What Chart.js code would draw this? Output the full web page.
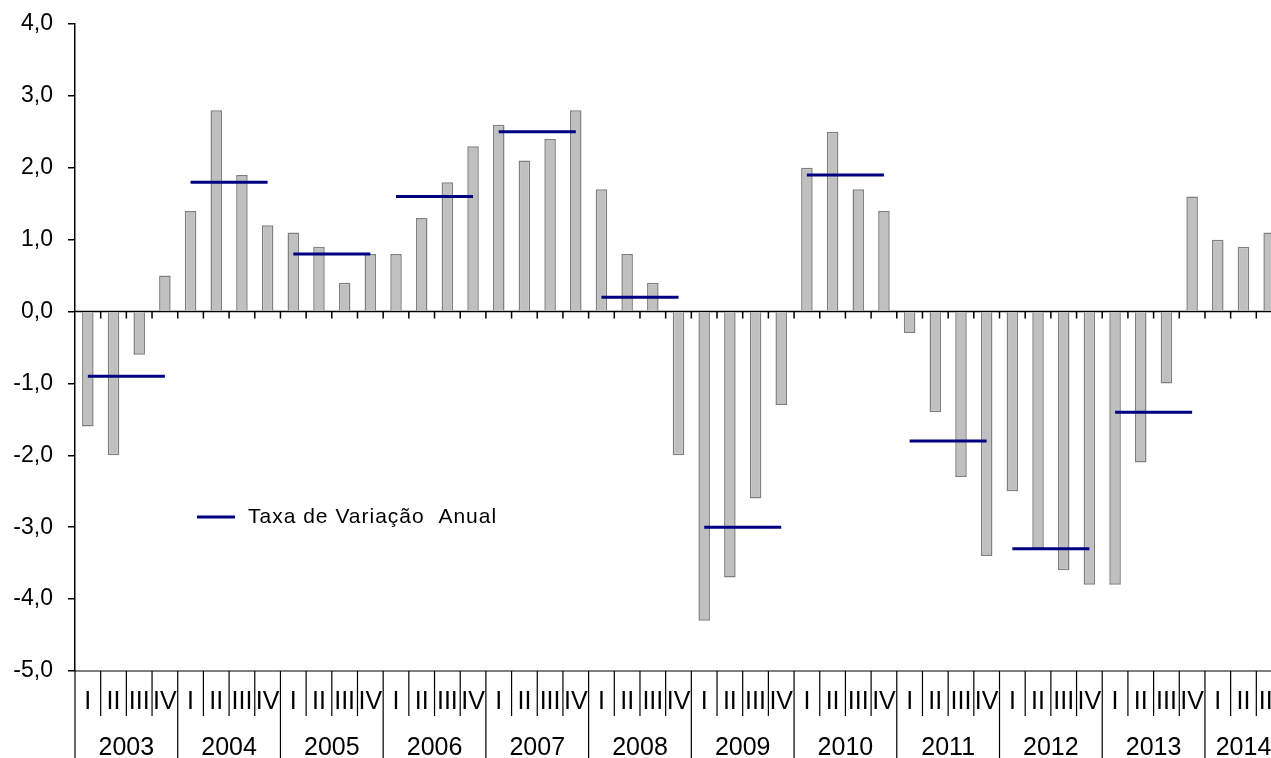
<!DOCTYPE html>
<html>
<head>
<meta charset="utf-8">
<script src="https://cdn.jsdelivr.net/npm/chart.js@4.4.1/dist/chart.umd.min.js"></script>
<style>
html, body { margin: 0; padding: 0; background: #fff; overflow: hidden; }
#wrap { width: 1282px; height: 758px; position: relative; }
</style>
</head>
<body>
<div id="wrap"><canvas id="chart"></canvas></div>
<script>
const years = ["2003", "2004", "2005", "2006", "2007", "2008", "2009", "2010", "2011", "2012", "2013", "2014"];
const quarters = ["I", "II", "III", "IV"];
// quarterly rate, 2003 I .. 2014 III
const quarterly = [
    -1.6, -2.0, -0.6, 0.5,
    1.4, 2.8, 1.9, 1.2,
    1.1, 0.9, 0.4, 0.8,
    0.8, 1.3, 1.8, 2.3,
    2.6, 2.1, 2.4, 2.8,
    1.7, 0.8, 0.4, -2.0,
    -4.3, -3.7, -2.6, -1.3,
    2.0, 2.5, 1.7, 1.4,
    -0.3, -1.4, -2.3, -3.4,
    -2.5, -3.3, -3.6, -3.8,
    -3.8, -2.1, -1.0, 1.6,
    1.0, 0.9, 1.1
];
// annual rate, 2003 .. 2013
const annual = [-0.9, 1.8, 0.8, 1.6, 2.5, 0.2, -3.0, 1.9, -1.8, -3.3, -1.4];
const legendText = "Taxa de Variação  Anual";

const font = "'Liberation Sans', Arial, sans-serif";
const navy = "#000080";

const labels = quarterly.map((v, i) => quarters[i % 4]);
const yearOf = i => Math.floor(i / 4);
const annualSeries = quarterly.map((v, i) => annual[yearOf(i)] !== undefined ? annual[yearOf(i)] : null);

const decor = {
    id: "decor",
    beforeDatasetsDraw(chart) {
        const { ctx, chartArea } = chart;
        const x = chart.scales.x, y = chart.scales.y;
        const w = x.getPixelForValue(1) - x.getPixelForValue(0);
        const y0 = y.getPixelForValue(0);
        ctx.save();
        ctx.strokeStyle = "#000";
        ctx.lineWidth = 1.5;
        ctx.beginPath();
        ctx.moveTo(chartArea.left, y0);
        ctx.lineTo(chartArea.right, y0);
        for (let i = 1; i <= labels.length; i++) {
            const bx = x.getPixelForValue(i - 1) + w / 2;
            ctx.moveTo(bx, y0);
            ctx.lineTo(bx, y0 + 7);
        }
        ctx.stroke();
        ctx.restore();
    },
    afterDraw(chart) {
        const { ctx, chartArea } = chart;
        const x = chart.scales.x;
        const w = x.getPixelForValue(1) - x.getPixelForValue(0);
        const bottom = chartArea.bottom;
        ctx.save();
        // bottom axis and separators
        ctx.strokeStyle = "#000";
        ctx.lineWidth = 1.2;
        ctx.beginPath();
        ctx.moveTo(chartArea.left, bottom);
        ctx.lineTo(chartArea.right, bottom);
        for (let i = 0; i <= labels.length; i++) {
            const bx = x.getPixelForValue(0) - w / 2 + i * w;
            ctx.moveTo(bx, bottom);
            ctx.lineTo(bx, i % 4 === 0 ? chart.height : bottom + 45);
        }
        ctx.stroke();

        ctx.fillStyle = "#000";
        ctx.textAlign = "center";
        ctx.textBaseline = "middle";
        ctx.font = "25px " + font;
        labels.forEach((q, i) => {
            ctx.fillText(q, x.getPixelForValue(i), bottom + 31);
        });
        years.forEach((yr, k) => {
            const first = k * 4;
            const last = Math.min(k * 4 + 3, labels.length - 1);
            const cx = (x.getPixelForValue(first) + x.getPixelForValue(last)) / 2;
            ctx.fillText(yr, cx, bottom + 77);
        });

        // legend
        const ly = 517;
        ctx.strokeStyle = navy;
        ctx.lineWidth = 3;
        ctx.beginPath();
        ctx.moveTo(chartArea.left + 122, ly);
        ctx.lineTo(chartArea.left + 160, ly);
        ctx.stroke();
        ctx.textAlign = "left";
        ctx.font = "21px " + font;
        ctx.letterSpacing = "1px";
        ctx.fillText(legendText, chartArea.left + 173, ly);
        ctx.restore();
    }
};

new Chart(document.getElementById("chart"), {
    type: "bar",
    data: {
        labels: labels,
        datasets: [
            {
                type: "line",
                label: legendText,
                data: annualSeries,
                borderColor: navy,
                borderWidth: 3,
                pointRadius: 0,
                fill: false,
                order: 0,
                segment: {
                    borderColor: c => yearOf(c.p0DataIndex) !== yearOf(c.p1DataIndex) ? "rgba(0,0,0,0)" : undefined
                }
            },
            {
                label: "Trimestral",
                data: quarterly,
                backgroundColor: "#c0c0c0",
                borderColor: "#808080",
                borderWidth: 1.5,
                categoryPercentage: 1,
                barPercentage: 0.45,
                order: 1
            }
        ]
    },
    options: {
        responsive: true,
        maintainAspectRatio: false,
        animation: false,
        layout: { padding: { top: 24, bottom: 87, left: 0, right: 0 } },
        plugins: {
            legend: { display: false },
            tooltip: { enabled: false }
        },
        scales: {
            x: { display: false, offset: true },
            y: {
                min: -5,
                max: 4,
                afterFit: s => { s.width = 75; s.paddingTop = 0; s.paddingBottom = 0; },
                ticks: {
                    stepSize: 1,
                    color: "#000",
                    padding: 15,
                    font: { size: 23, family: font },
                    callback: v => v.toFixed(1).replace(".", ",")
                },
                grid: { drawOnChartArea: false, drawTicks: true, tickLength: 7, color: "#000", lineWidth: 1.5 },
                border: { color: "#000", width: 1.5 }
            }
        }
    },
    plugins: [decor]
});
</script>
</body>
</html>
